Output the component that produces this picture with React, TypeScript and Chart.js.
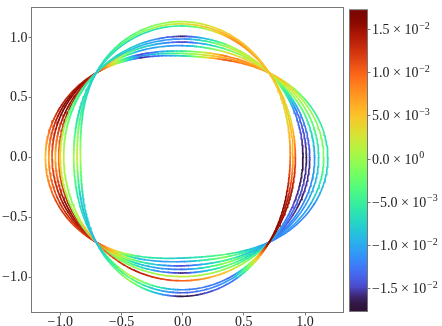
import React, { useEffect, useRef } from 'react';
import { Chart, registerables } from 'chart.js';

Chart.register(...registerables);

// ---- Data ----
// Radius of every closed curve at the centre of each lobe
const rRight = [0.879, 0.901, 0.921, 0.983, 1.011, 1.038, 1.078, 1.111, 1.152, 1.186];
const rTop = [1.136, 1.117, 1.1, 1.013, 0.991, 0.965, 0.935, 0.89, 0.87, 0.85];
const rLeft = [0.835, 0.862, 0.89, 0.972, 1.0, 1.013, 1.04, 1.067, 1.094, 1.121];
const rBottom = [1.16, 1.13, 1.105, 1.03, 0.995, 0.965, 0.935, 0.905, 0.87, 0.84];

// Colour value (x 1e-3) along each curve at 0°, 22.5°, 45°, ... 337.5°
const curveValues = [
  [9, 3, 5, 5, 1, -3, -8, -6, 1, -7, -9, 0, -17, -12, 16, 16],
  [6, 5, 6, 7, 3, -2, -7, -4, 3, -9, -9, -3, -14, -10, 15, 14],
  [11, 2, 7, 8, -5, -7, -8, -7, 0, -6, -8, 2, -12, -13, 16, 15],
  [-17, -12, 4, 0, -16, -8, -6, -4, 2, -1, 8, 14, 10, 4, -8, -15],
  [-16, -13, 2, 2, -12, -9, -6, -2, 4, 0, -3, -1, 2, -1, -10, -14],
  [-15, -11, 4, -2, -15, -6, 12, 15, 9, 14, 10, -6, -16, -2, -12, -16],
  [-11, -3, 5, 3, -11, -10, 12, 16, 6, 16, 12, -8, -13, 0, -12, -12],
  [-7, -1, 6, 9, -5, -15, 14, 17, 10, 15, 13, -4, -15, -4, -12, -11],
  [-2, 0, 7, 7, -2, -12, 14, 16, 7, 13, 12, -9, -11, -1, -11, -10],
  [-6, -5, 6, 11, -7, -16, 13, 14, 5, 12, 11, -5, -8, -3, -12, -12],
];

const xTicks = [-1.0, -0.5, 0.0, 0.5, 1.0];
const yTicks = [-1.0, -0.5, 0.0, 0.5, 1.0];
const xMin = -1.231, xMax = 1.31;
const yMin = -1.291, yMax = 1.25;

const cbMin = -0.01758, cbMax = 0.01721;
const cbTicks = [-0.015, -0.01, -0.005, 0, 0.005, 0.01, 0.015];
const cbMantissa = ['\u22121.5', '\u22121.0', '\u22125.0', '0.0', '5.0', '1.0', '1.5'];
const cbExponent = ['\u22122', '\u22122', '\u22123', '0', '\u22123', '\u22122', '\u22122'];

// ---- styling ----
const FONT = '"Liberation Serif", "Times New Roman", serif';
const TEXT = '#222';
const SPINE = '#777';
const NPTS = 360;
const LEVELS = 48;

function turbo(t: number): string {
  t = Math.min(1, Math.max(0, t));
  const poly = (c: number[]) => c[0] + t * (c[1] + t * (c[2] + t * (c[3] + t * (c[4] + t * c[5]))));
  let r = poly([0.13572138, 4.6153926, -42.66032258, 132.13108234, -152.94239396, 59.28637943]);
  let g = poly([0.09140261, 2.19418839, 4.84296658, -14.18503333, 4.27729857, 2.82956604]);
  let b = poly([0.1066733, 12.64194608, -60.58204836, 110.36276771, -89.90310912, 27.34824973]);
  if (t < 0.08) {
    const w = t / 0.08;
    r = r * w + 0.19 * (1 - w);
    g = g * w + 0.072 * (1 - w);
    b = b * w + 0.232 * (1 - w);
  }
  if (t > 0.93) {
    const w = (t - 0.93) / 0.07;
    r = r * (1 - w) + 0.48 * w;
    g = g * (1 - w) + 0.016 * w;
    b = b * (1 - w) + 0.011 * w;
  }
  const cl = (v: number) => Math.round(Math.min(1, Math.max(0, v)) * 255);
  return `rgb(${cl(r)},${cl(g)},${cl(b)})`;
}

function colourFor(v: number): string {
  return turbo((v - cbMin) / (cbMax - cbMin));
}

function colourQuantised(v: number): string {
  const t = (v - cbMin) / (cbMax - cbMin);
  return turbo(Math.round(t * LEVELS) / LEVELS);
}

function curvePoints(k: number) {
  const R = rRight[k], T = rTop[k], L = rLeft[k], B = rBottom[k];
  const a = (R + L - (T + B)) / 4;
  const d = (R + L + (T + B)) / 4 - 1;
  const b = (R - L) / 2;
  const c = (B - T) / 2;
  const pts: { x: number; y: number }[] = [];
  for (let i = 0; i <= NPTS; i++) {
    const th = (i / NPTS) * 2 * Math.PI;
    const c2 = Math.cos(2 * th);
    const r = 1 + c2 * (a + b * Math.cos(th) + c * Math.sin(th) + d * c2);
    pts.push({ x: r * Math.cos(th), y: r * Math.sin(th) });
  }
  return pts;
}

function valueAt(k: number, th: number): number {
  const arr = curveValues[k];
  const n = arr.length;
  const pos = (th / (2 * Math.PI)) * n;
  const fl = Math.floor(pos);
  const f = pos - fl;
  const i0 = ((fl % n) + n) % n;
  const i1 = (i0 + 1) % n;
  return (arr[i0] * (1 - f) + arr[i1] * f) * 1e-3;
}

const fmtTick = (v: number) => (v < 0 ? '\u2212' : '') + Math.abs(v).toFixed(1);

export default function App() {
  const mainRef = useRef<HTMLCanvasElement>(null);
  const cbRef = useRef<HTMLCanvasElement>(null);

  useEffect(() => {
    const datasets = curveValues.map((_, k) => ({
      data: curvePoints(k),
      showLine: true,
      pointRadius: 0,
      borderWidth: 1.7,
      borderColor: '#000',
      borderCapStyle: 'round',
      borderJoinStyle: 'round',
      tension: 0,
      segment: {
        borderColor: (ctx: any) => {
          const th = ((ctx.p0DataIndex + 0.5) / NPTS) * 2 * Math.PI;
          return colourQuantised(valueAt(k, th));
        },
      },
    }));

    const boxPlugin = {
      id: 'box',
      afterDraw(chart: any) {
        const { ctx, chartArea: a } = chart;
        ctx.save();
        ctx.strokeStyle = SPINE;
        ctx.lineWidth = 1;
        ctx.strokeRect(a.left - 0.5, a.top - 0.5, a.right - a.left + 1, a.bottom - a.top + 1);
        ctx.restore();
      },
    };

    const axisCommon = {
      type: 'linear' as const,
      grid: { drawOnChartArea: false, drawTicks: true, tickLength: 3.5, color: SPINE, lineWidth: 1 },
      border: { display: false },
    };

    const main = new Chart(mainRef.current!, {
      type: 'scatter',
      data: { datasets: datasets as any },
      options: {
        animation: false,
        responsive: false,
        events: [],
        layout: { padding: { left: 0, right: 99, top: 1, bottom: 0 } },
        plugins: { legend: { display: false }, tooltip: { enabled: false } },
        scales: {
          x: {
            ...axisCommon,
            min: xMin,
            max: xMax,
            afterBuildTicks: (s: any) => { s.ticks = xTicks.map((v) => ({ value: v })); },
            afterFit: (s: any) => { s.height = 14; },
            ticks: {
              callback: (v: any) => fmtTick(Number(v)),
              font: { family: FONT, size: 14, lineHeight: 1 },
              color: TEXT,
              padding: 0,
              maxRotation: 0,
              autoSkip: false,
            },
          },
          y: {
            ...axisCommon,
            min: yMin,
            max: yMax,
            afterBuildTicks: (s: any) => { s.ticks = yTicks.map((v) => ({ value: v })); },
            afterFit: (s: any) => { s.width = 32; },
            ticks: {
              callback: (v: any) => fmtTick(Number(v)),
              font: { family: FONT, size: 14, lineHeight: 1 },
              color: TEXT,
              padding: 1,
              autoSkip: false,
            },
          },
        },
      },
      plugins: [boxPlugin],
    } as any);

    const cbPlugin = {
      id: 'colourbar',
      beforeDatasetsDraw(chart: any) {
        const { ctx, chartArea: a } = chart;
        const ys = chart.scales.y;
        ctx.save();
        for (let py = Math.floor(a.top); py < Math.ceil(a.bottom); py++) {
          const v = ys.getValueForPixel(py + 0.5);
          ctx.fillStyle = colourFor(v);
          ctx.fillRect(a.left, py, a.right - a.left, 1);
        }
        ctx.restore();
      },
      afterDraw(chart: any) {
        const { ctx, chartArea: a } = chart;
        const ys = chart.scales.y;
        ctx.save();
        ctx.strokeStyle = SPINE;
        ctx.lineWidth = 1;
        ctx.strokeRect(a.left - 0.5, a.top - 0.5, a.right - a.left + 1, a.bottom - a.top + 1);
        ctx.fillStyle = TEXT;
        ctx.textBaseline = 'alphabetic';
        ctx.textAlign = 'left';
        cbTicks.forEach((v, j) => {
          const py = ys.getPixelForValue(v);
          const x0 = a.right + 5;
          const base = cbMantissa[j] + ' \u00d7 10';
          ctx.font = `14px ${FONT}`;
          ctx.fillText(base, x0, py + 4.6);
          const w = ctx.measureText(base).width;
          ctx.font = `10px ${FONT}`;
          ctx.fillText(cbExponent[j], x0 + w + 0.8, py - 0.8);
        });
        ctx.restore();
      },
    };

    const cb = new Chart(cbRef.current!, {
      type: 'scatter',
      data: { datasets: [{ data: [] }] },
      options: {
        animation: false,
        responsive: false,
        events: [],
        layout: { padding: { left: 350, right: 0, top: 1, bottom: 15 } },
        plugins: { legend: { display: false }, tooltip: { enabled: false } },
        scales: {
          x: { display: false, min: 0, max: 1 },
          y: {
            type: 'linear',
            position: 'right',
            min: cbMin,
            max: cbMax,
            afterBuildTicks: (s: any) => { s.ticks = cbTicks.map((v) => ({ value: v })); },
            afterFit: (s: any) => { s.width = 75; },
            grid: { drawOnChartArea: false, drawTicks: true, tickLength: 3.5, color: SPINE, lineWidth: 1 },
            border: { display: false },
            ticks: { callback: () => '', autoSkip: false },
          },
        },
      },
      plugins: [cbPlugin],
    } as any);

    return () => {
      main.destroy();
      cb.destroy();
    };
  }, []);

  return (
    <div style={{ position: 'absolute', left: 0, top: 0, width: 442, height: 326, background: '#fff' }}>
      <canvas ref={mainRef} width={442} height={326} style={{ position: 'absolute', left: 0, top: 0 }} />
      <canvas ref={cbRef} width={442} height={326} style={{ position: 'absolute', left: 0, top: 0 }} />
    </div>
  );
}
